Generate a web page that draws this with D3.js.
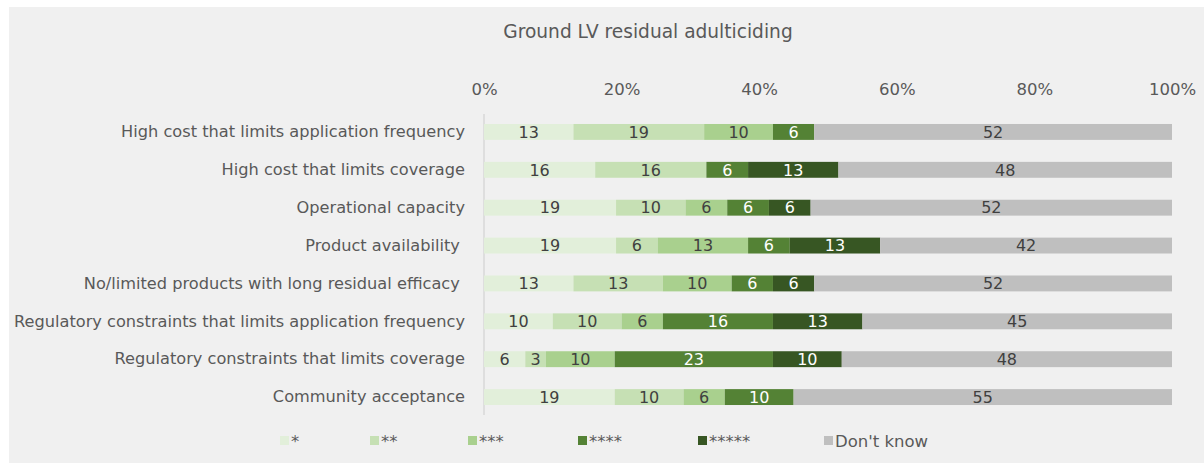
<!DOCTYPE html>
<html>
<head>
<meta charset="utf-8">
<script src="https://cdn.jsdelivr.net/npm/d3@7"></script>
<style>
  html, body { margin: 0; padding: 0; background: #ffffff; }
  svg { display: block; font-family: "DejaVu Sans", Verdana, sans-serif; }
</style>
</head>
<body>
<svg id="chart" width="1204" height="463"></svg>
<script>
// Survey responses (%), one entry per constraint
const categories = [
  "High cost that limits application frequency",
  "High cost that limits coverage",
  "Operational capacity",
  "Product availability ",
  "No/limited products with long residual efficacy ",
  "Regulatory constraints that limits application frequency",
  "Regulatory constraints that limits coverage",
  "Community acceptance"
];
const seriesNames = ["*", "**", "***", "****", "*****", "Don't know"];
const oneStar   = [13, 16, 19, 19, 13, 10, 6, 19];
const twoStar   = [19, 16, 10, 6, 13, 10, 3, 10];
const threeStar = [10, 0, 6, 13, 10, 6, 10, 6];
const fourStar  = [6, 6, 6, 6, 6, 16, 23, 10];
const fiveStar  = [0, 13, 6, 13, 6, 13, 10, 0];
const dontKnow  = [52, 48, 52, 42, 52, 45, 48, 55];
const tickLabels = ["0%", "20%", "40%", "60%", "80%", "100%"];
const title = "Ground LV residual adulticiding";

const colors = ["#e2efda", "#c6e0b4", "#a9d08e", "#548235", "#375623", "#bfbfbf"];
const labelColors = ["#404040", "#404040", "#404040", "#ffffff", "#ffffff", "#404040"];

const seriesValues = [oneStar, twoStar, threeStar, fourStar, fiveStar, dontKnow];
const rows = categories.map((c, i) => {
  const r = { category: c };
  seriesNames.forEach((s, j) => { r[s] = seriesValues[j][i]; });
  return r;
});

const svg = d3.select("#chart");
const W = 1204, H = 463;

// panel background
svg.append("rect").attr("x", 9).attr("y", 7).attr("width", W - 9).attr("height", H - 7)
  .attr("fill", "#f0f0f0");

svg.append("text").attr("x", 648).attr("y", 38).attr("text-anchor", "middle")
  .attr("font-size", 18.6).attr("fill", "#595959").text(title);

const x = d3.scaleLinear().domain([0, 1]).range([484, 1172]);
const y = d3.scaleBand().domain(categories).range([113, 416]).paddingInner(0.58).paddingOuter(0.29);

const stack = d3.stack().keys(seriesNames).offset(d3.stackOffsetExpand);
const layers = stack(rows);

// top percentage axis
const xAxis = d3.axisTop(x).tickValues(d3.range(0, 1.01, 0.2))
  .tickFormat((d, i) => tickLabels[i]).tickSize(0).tickPadding(0);
const gx = svg.append("g").attr("transform", "translate(0,95)").call(xAxis);
gx.select(".domain").remove();
gx.selectAll("text").attr("font-size", 16.5).attr("fill", "#595959")
  .attr("font-family", "DejaVu Sans, Verdana, sans-serif").attr("dy", 0);

// category axis
const yAxis = d3.axisLeft(y).tickSize(0).tickPadding(19);
const gy = svg.append("g").attr("transform", "translate(484,0)").call(yAxis);
gy.select(".domain").remove();
gy.selectAll("text").attr("font-size", 16.2).attr("fill", "#595959")
  .attr("font-family", "DejaVu Sans, Verdana, sans-serif").style("white-space", "pre");

svg.append("line").attr("x1", 484).attr("x2", 484).attr("y1", 114).attr("y2", 415)
  .attr("stroke", "#d9d9d9").attr("stroke-width", 1.5);

const g = svg.append("g");
layers.forEach((layer, j) => {
  const lg = g.append("g");
  lg.selectAll("rect").data(layer).join("rect")
    .attr("x", d => x(d[0]))
    .attr("width", d => x(d[1]) - x(d[0]))
    .attr("y", d => y(d.data.category))
    .attr("height", y.bandwidth())
    .attr("fill", colors[j]);
  lg.selectAll("text").data(layer.filter(d => d.data[seriesNames[j]] > 0)).join("text")
    .attr("x", d => (x(d[0]) + x(d[1])) / 2)
    .attr("y", d => y(d.data.category) + y.bandwidth() / 2)
    .attr("dy", "0.36em")
    .attr("text-anchor", "middle")
    .attr("font-size", 16)
    .attr("fill", labelColors[j])
    .text(d => d.data[seriesNames[j]]);
});

// legend
const legendX = [280, 370, 468, 578, 698, 824];
const lgd = svg.append("g");
seriesNames.forEach((s, j) => {
  lgd.append("rect").attr("x", legendX[j]).attr("y", 436).attr("width", 9).attr("height", 9)
    .attr("fill", colors[j]);
  lgd.append("text").attr("x", legendX[j] + 11).attr("y", 447)
    .attr("font-size", 16.5).attr("fill", "#595959").text(s);
});
</script>
</body>
</html>
